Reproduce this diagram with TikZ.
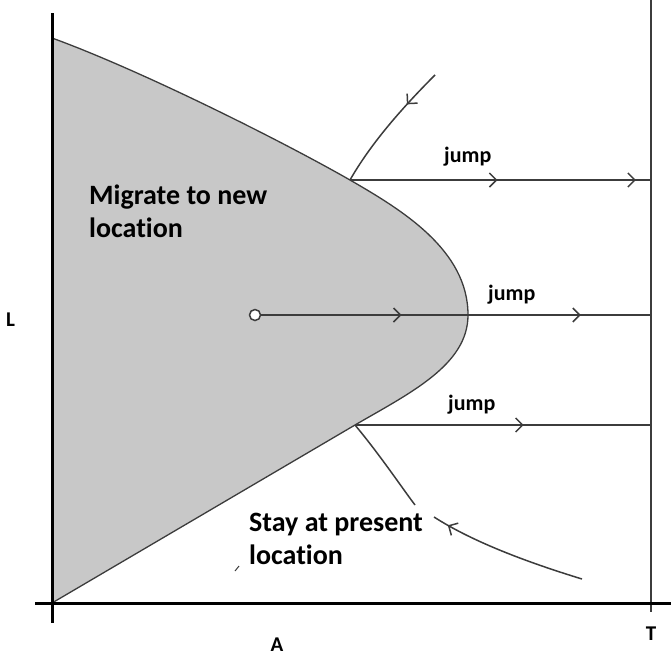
\documentclass[tikz,border=0pt]{standalone}
\usepackage{fontspec}
\setmainfont{Carlito}[Ligatures=NoCommon]
\usepackage{xcolor}
\usepackage{tikz}
\usetikzlibrary{arrows.meta,decorations.markings}

\definecolor{regiongray}{RGB}{200,200,200}
\definecolor{pathgray}{RGB}{60,60,60}

\tikzset{
  barb/.tip={Straight Barb[length=7pt,width=14pt]},
  axis/.style={black, line width=3pt},
  border/.style={pathgray, line width=1.3pt},
  orbit/.style={pathgray, line width=1.5pt},
  flow/.style={orbit, postaction={decorate},
    decoration={markings, mark=at position #1 with {\arrow{barb}}}},
  flowtwo/.style 2 args={orbit, postaction={decorate},
    decoration={markings, mark=at position #1 with {\arrow{barb}},
      mark=at position #2 with {\arrow{barb}}}},
  region/.style={font=\fontsize{28}{33}\selectfont\bfseries, align=left,
    inner sep=0pt, anchor=north west},
  jumplabel/.style={font=\fontsize{22}{26}\selectfont\bfseries, inner sep=0pt,
    anchor=base west},
  axislabel/.style={font=\fontsize{21}{25}\selectfont\bfseries, inner sep=0pt,
    anchor=base}
}

\begin{document}
\begin{tikzpicture}[x=1pt,y=-1pt]
    \useasboundingbox (0,0) rectangle (671,656);
    % corner points of the migration region
    \coordinate (top) at (52,38);
    \coordinate (o) at (52,603);
    \coordinate (up) at (350,180);
    \coordinate (vx) at (468,315);
    \coordinate (lo) at (355,425);
    % shaded region
    \fill[regiongray] (top) .. controls (140,70) and (280,140) .. (up)
      .. controls (402,210) and (468,250) .. (vx)
      .. controls (468,365) and (410,393) .. (lo) -- (o) -- cycle;
    \draw[border] (top) .. controls (140,70) and (280,140) .. (up)
      .. controls (402,210) and (468,250) .. (vx)
      .. controls (468,365) and (410,393) .. (lo) -- (o);
    % axes and terminal line
    \coordinate (Ttop) at (651,0);
    \coordinate (Tbot) at (651,612);
    \draw[pathgray, line width=2pt] (Ttop) -- (Tbot);
    \draw[axis] (52,13) -- (52,623);
    \draw[axis] (35,603) -- (671,603);
    % jump lines
    \coordinate (e1) at (651,180);
    \coordinate (e2) at (651,315);
    \coordinate (e3) at (651,425);
    \draw[flowtwo={0.49}{0.95}] (up) -- (e1);
    \node[circle, draw=pathgray, line width=1.5pt, fill=white, minimum size=11pt,
      inner sep=0pt] (start) at (255,315) {};
    \draw[flowtwo={0.36}{0.82}] (start) -- (e2);
    \draw[flow=0.57] (lo) -- (e3);
    % trajectories into the boundary
    \coordinate (s1) at (435,75);
    \draw[flow=0.3] (s1) .. controls (400,110) and (370,145) .. (up);
    \coordinate (g1) at (415,505);
    \draw[orbit] (lo) .. controls (380,455) and (400,485) .. (g1);
    \coordinate (s2) at (582,579);
    \coordinate (g2) at (434,517);
    \draw[flow=0.9] (s2) .. controls (520,560) and (470,540) .. (g2);
    \draw[pathgray, line width=1pt] (235,571) -- (239,566);
    % labels
    \node[region] (migrate) at (89,185) {Migrate to new\\location};
    \node[region] (stay) at (249,513) {Stay at present\\location};
    \node[jumplabel] (j1) at (444,162) {jump};
    \node[jumplabel] (j2) at (488,300) {jump};
    \node[jumplabel] (j3) at (448,410) {jump};
    \node[axislabel, anchor=base west] (lL) at (6,326) {L};
    \node[axislabel] (lA) at (277,651) {A};
    \node[axislabel] (lT) at (651,640) {T};
\end{tikzpicture}
\end{document}
